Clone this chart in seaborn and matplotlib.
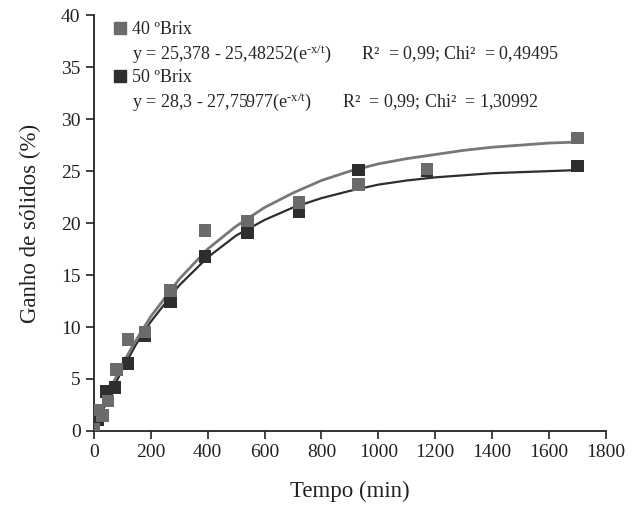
import numpy as np
import pandas as pd
import seaborn as sns
import matplotlib.pyplot as plt
from matplotlib.lines import Line2D

t_40 = [0, 15, 30, 50, 80, 120, 180, 270, 390, 540, 720, 930, 1170, 1700]
ganho_40 = [0.2, 2.0, 1.5, 2.9, 5.9, 8.8, 9.5, 13.5, 19.3, 20.2, 22.0, 23.7, 25.2, 28.2]

t_50 = [0, 15, 45, 75, 120, 180, 270, 390, 540, 720, 930, 1170, 1700]
ganho_50 = [0.2, 1.1, 3.8, 4.2, 6.5, 9.2, 12.4, 16.8, 19.1, 21.1, 25.1, 25.0, 25.5]

# Fitted curves
t_fit = [0, 25, 50, 100, 150, 200, 300, 400, 500, 600, 700, 800, 900,
         1000, 1100, 1200, 1300, 1400, 1500, 1600, 1700]
fit_upper = [0.5, 2.1, 3.6, 6.4, 8.8, 11.0, 14.6, 17.5, 19.7, 21.5, 22.9, 24.1, 25.0,
             25.7, 26.2, 26.6, 27.0, 27.3, 27.5, 27.7, 27.8]
fit_lower = [0.0, 1.6, 3.1, 5.9, 8.4, 10.5, 14.0, 16.7, 18.8, 20.3, 21.5, 22.4, 23.1,
             23.7, 24.1, 24.4, 24.6, 24.8, 24.9, 25.0, 25.1]

labels = ["40 \u00baBrix", "50 \u00baBrix"]
eq_40 = "y = 25,378 - 25,48252(e$^{\\mathrm{\u2010x/t}}$)       R\u00b2  = 0,99; Chi\u00b2  = 0,49495"
eq_50 = "y = 28,3 - 27,75977(e$^{\\mathrm{\u2010x/t}}$)       R\u00b2  = 0,99; Chi\u00b2  = 1,30992"

c_light = "#6b6b6b"
c_dark = "#2e2e2e"

sns.set_style("ticks")
plt.rcParams['font.family'] = ['Liberation Serif', 'DejaVu Serif']
plt.rcParams['mathtext.fontset'] = 'custom'
plt.rcParams['mathtext.rm'] = 'Liberation Serif'
plt.rcParams['mathtext.it'] = 'Liberation Serif:italic'

fig, ax = plt.subplots(figsize=(6.38, 5.07), dpi=100)
fig.subplots_adjust(left=0.147, right=0.95, bottom=0.15, top=0.97)

sns.lineplot(x=t_fit, y=fit_lower, ax=ax, color=c_dark, lw=1.6)
sns.lineplot(x=t_fit, y=fit_upper, ax=ax, color="#777777", lw=2.0)

sns.scatterplot(x=t_50, y=ganho_50, ax=ax, marker="s", s=80, color=c_dark,
                edgecolor="none", zorder=3)
sns.scatterplot(x=t_40, y=ganho_40, ax=ax, marker="s", s=80, color=c_light,
                edgecolor="none", zorder=4)

ax.set_xlim(0, 1800)
ax.set_ylim(0, 40)
ax.set_xticks(np.arange(0, 1801, 200))
ax.set_yticks(np.arange(0, 41, 5))
ax.tick_params(axis="both", direction="out", length=6, width=1.2, labelsize=14,
               colors="#222222")
for sp in ["left", "bottom"]:
    ax.spines[sp].set_linewidth(1.3)
    ax.spines[sp].set_color("#222222")
sns.despine(ax=ax)

ax.set_xlabel("Tempo (min)", fontsize=16.5, labelpad=14, color="#222222")
ax.set_ylabel("Ganho de s\u00f3lidos (%)", fontsize=16.5, labelpad=14, color="#222222")

handles = [
    Line2D([], [], marker="s", ls="none", color=c_light, markersize=8.5),
    Line2D([], [], ls="none"),
    Line2D([], [], marker="s", ls="none", color=c_dark, markersize=8.5),
    Line2D([], [], ls="none"),
]
ax.legend(handles, [labels[0], eq_40, labels[1], eq_50], loc="upper left",
          bbox_to_anchor=(0.006, 1.025), frameon=False, fontsize=13,
          handlelength=0.8, handletextpad=0.25, labelspacing=0.24)

fig.savefig("out.png", dpi=100)
